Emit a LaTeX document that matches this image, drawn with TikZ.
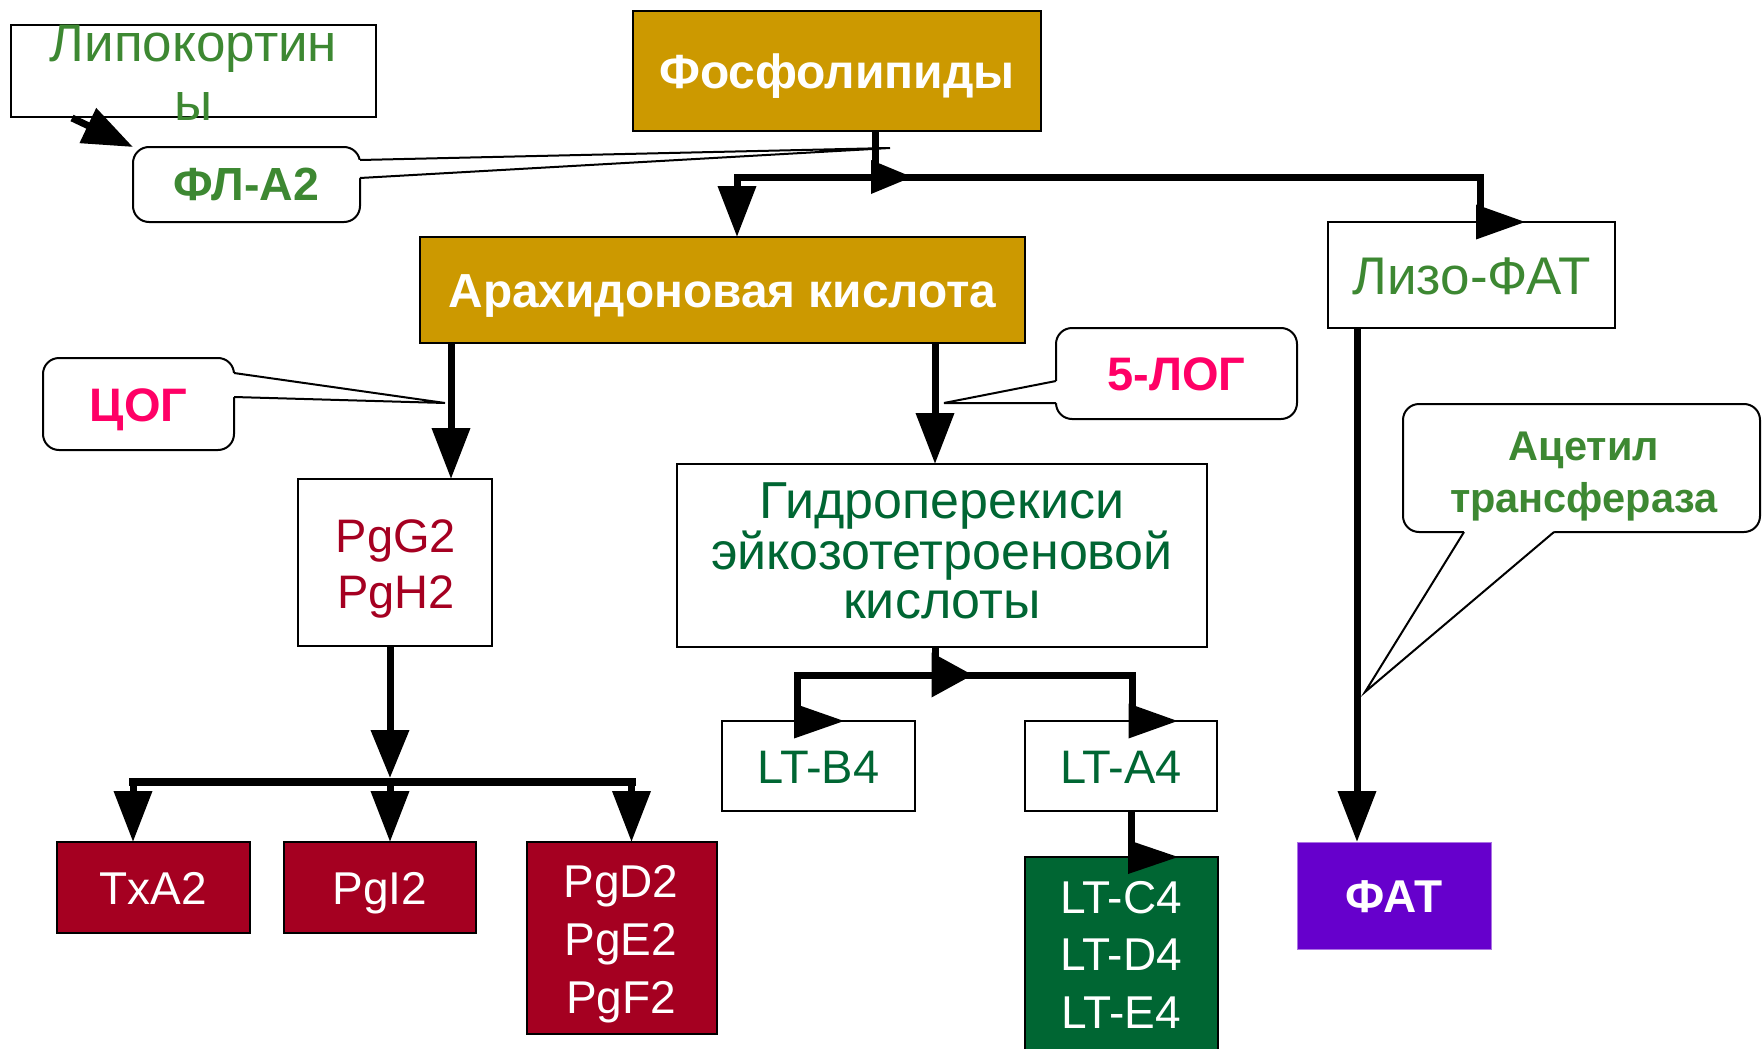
\documentclass[tikz,border=0pt]{standalone}
\usepackage{fontspec}
\setmainfont{Liberation Sans}
\usetikzlibrary{arrows.meta,calc}

\definecolor{gold}{HTML}{CC9900}
\definecolor{leaf}{HTML}{3D8832}
\definecolor{pine}{HTML}{006633}
\definecolor{wine}{HTML}{A50021}
\definecolor{rose}{HTML}{FF0066}
\definecolor{violetfill}{HTML}{6600CC}

\tikzset{
  box/.style={draw=black, line width=2pt, fill=white, inner sep=0pt, outer sep=0pt},
  bubble/.style={box, rounded corners=16pt},
  flow/.style={line width=7pt},
  flowdown/.style={flow, -{Triangle[length=51pt,width=37pt]}},
  txt/.style={anchor=base, inner sep=0pt, outer sep=0pt},
  capht/.style={text height=#1, text depth=0pt},
  pointer/.style={line width=2pt},
  pics/rtri/.style 2 args={code={\fill (0,-#2) -- (#1,0) -- (0,#2) -- cycle;}},
}

\begin{document}
\begin{tikzpicture}[x=1pt,y=-1pt]
\fill[white] (0,0) rectangle (1762,1049);
\useasboundingbox (0,0) rectangle (1762,1049);

% ---- boxes ----
\node[box, minimum width=365pt, minimum height=92pt] (lip) at (193.5,71) {};
\node[box, fill=gold, minimum width=408pt, minimum height=120pt, capht=35pt,
      text=white, font=\bfseries\fontsize{48}{56}\selectfont] (pho) at (837,71) {Фосфолипиды};
\node[bubble, minimum width=227pt, minimum height=75pt, capht=32pt,
      text=leaf, font=\bfseries\fontsize{46.5}{52}\selectfont] (fla) at (246.5,184.5) {ФЛ-А2};
\node[box, fill=gold, minimum width=605pt, minimum height=106pt, capht=34pt,
      text=white, font=\bfseries\fontsize{47.8}{54}\selectfont] (ara) at (722.5,290) {Арахидоновая кислота};
\node[box, minimum width=287pt, minimum height=106pt, capht=38pt,
      text=leaf, font=\fontsize{53}{60}\selectfont] (liz) at (1471.5,275) {Лизо-ФАТ};
\node[bubble, minimum width=191pt, minimum height=92pt, capht=35pt,
      text=rose, font=\bfseries\fontsize{47}{54}\selectfont] (cog) at (138.5,404) {ЦОГ};
\node[bubble, minimum width=241pt, minimum height=91pt, capht=34pt,
      text=rose, font=\bfseries\fontsize{47}{54}\selectfont] (log) at (1176.5,373.5) {5-ЛОГ};
\node[box, minimum width=194pt, minimum height=167pt] (pgg) at (395,562.5) {};
\node[box, minimum width=530pt, minimum height=183pt] (gid) at (942,555.5) {};
\node[bubble, minimum width=357pt, minimum height=128pt] (act) at (1581.5,468) {};
\node[box, minimum width=193pt, minimum height=90pt, capht=35pt,
      text=pine, font=\fontsize{47}{54}\selectfont] (ltb) at (818.5,766) {LT-B4};
\node[box, minimum width=192pt, minimum height=90pt, capht=35pt,
      text=pine, font=\fontsize{47}{54}\selectfont] (lta) at (1121,766) {LT-A4};
\node[box, fill=wine, minimum width=193pt, minimum height=91pt, capht=33pt,
      text=white, font=\fontsize{46}{54}\selectfont] (txa) at (153.5,887.5) {TxA2};
\node[box, fill=wine, minimum width=192pt, minimum height=91pt, capht=33pt,
      text=white, font=\fontsize{46}{54}\selectfont] (pgi) at (380,887.5) {PgI2};
\node[box, fill=wine, minimum width=190pt, minimum height=192pt] (pgd) at (622,938) {};
\node[box, fill=pine, minimum width=193pt, minimum height=203pt] (ltc) at (1121.5,958.5) {};
\node[box, fill=violetfill, draw=violetfill!55!white, line width=1pt,
      minimum width=194pt, minimum height=107pt, capht=33pt,
      text=white, font=\bfseries\fontsize{46}{54}\selectfont] (fat) at (1394,895.5) {ФАТ};

% ---- callout pointers ----
\coordinate (flt) at (890,148);
\fill[white] ($(fla.north east)+(0,13)$) -- (flt) -- ($(fla.north east)+(0,31)$)
  -- ($(fla.north east)+(-3,31)$) -- ($(fla.north east)+(-3,13)$) -- cycle;
\draw[pointer] ($(fla.north east)+(0,13)$) -- (flt) -- ($(fla.north east)+(0,31)$);

\coordinate (cgt) at (445,403);
\fill[white] ($(cog.north east)+(0,15)$) -- (cgt) -- ($(cog.north east)+(0,39)$)
  -- ($(cog.north east)+(-3,39)$) -- ($(cog.north east)+(-3,15)$) -- cycle;
\draw[pointer] ($(cog.north east)+(0,15)$) -- (cgt) -- ($(cog.north east)+(0,39)$);

\coordinate (lgt) at (944,403);
\fill[white] ($(log.north west)+(0,53)$) -- (lgt) -- ($(log.north west)+(0,75)$)
  -- ($(log.north west)+(3,75)$) -- ($(log.north west)+(3,53)$) -- cycle;
\draw[pointer] ($(log.north west)+(0,53)$) -- (lgt) -- ($(log.north west)+(0,75)$);

\coordinate (act0) at (1365,692);
\fill[white] ($(act.south west)+(61,0)$) -- (act0) -- ($(act.south west)+(151,0)$)
  -- ($(act.south west)+(151,-3)$) -- ($(act.south west)+(61,-3)$) -- cycle;
\draw[pointer] ($(act.south west)+(61,0)$) -- (act0) -- ($(act.south west)+(151,0)$);

% ---- connectors ----
\draw[flowdown, -{Triangle[length=50pt,width=37pt]}] ($(lip.south west)+(61,1)$) -- (fla.north west);

\coordinate (j1) at (875.5,177);
\coordinate (bl) at (737,177);
\coordinate (br) at (1480,177);
\draw[flow] (pho.south -| j1) -- (j1);
\draw[flowdown] (br) -- (bl) -- (bl |- ara.north);
\draw[flow] (bl) -- (br) -- (br |- liz.north);
\pic at ($(j1)+(-4.5,0)$) {rtri={41}{17}};
\pic at ($(br |- liz.north)+(-4,0)$) {rtri={49}{17.5}};

\coordinate (a1) at (451,0);
\coordinate (a2) at (935,0);
\draw[flowdown] (ara.south -| a1) -- (pgg.north -| a1);
\draw[flowdown] (ara.south -| a2) -- (gid.north -| a2);

\coordinate (p1) at (390,778);
\draw[flowdown, -{Triangle[length=48pt,width=37pt]}] (pgg.south -| p1) -- (p1);
\coordinate (q1) at (133,782);
\coordinate (q2) at (390,782);
\coordinate (q3) at (631.5,782);
\draw[line width=8pt, line cap=rect] (q1) -- (q3);
\draw[flowdown] (q1) -- (q1 |- txa.north);
\draw[flowdown] (q2) -- (q2 |- pgi.north);
\draw[flowdown] (q3) -- (q3 |- pgd.north);

\coordinate (g0) at (935,675);
\coordinate (gl) at (797.5,675);
\coordinate (gr) at (1132,675);
\draw[flow] (gid.south -| g0) -- (g0);
\draw[flow] (gl |- ltb.north) -- (gl) -- (gr) -- (gr |- lta.north);
\pic at ($(g0)+(-3.5,0)$) {rtri={41}{22.5}};
\pic at ($(gl |- ltb.north)+(-3.5,0)$) {rtri={50}{17.5}};
\pic at ($(gr |- lta.north)+(-3.5,0)$) {rtri={49}{17.5}};

\coordinate (c1) at (1131.5,0);
\draw[flow] (lta.south -| c1) -- (ltc.north -| c1);
\pic at ($(ltc.north -| c1)+(-3.5,0)$) {rtri={50}{17}};

\coordinate (f1) at (1357,0);
\draw[flowdown] (liz.south -| f1) -- (fat.north -| f1);

% ---- multi-line texts ----
\node[txt, text=leaf, font=\fontsize{53}{60}\selectfont] (lip1) at (193.5,62) {Липокортин};
\node[txt, text=leaf, font=\fontsize{53}{60}\selectfont] (lip2) at (193.5,121) {ы};

\node[txt, text=wine, font=\fontsize{47}{54}\selectfont] (pgg1) at (396,552) {PgG2};
\node[txt, text=wine, font=\fontsize{47}{54}\selectfont] (pgg2) at (396,608) {PgH2};

\node[txt, text=pine, font=\fontsize{52}{60}\selectfont] (gid1) at (942,518) {Гидроперекиси};
\node[txt, text=pine, font=\fontsize{52}{60}\selectfont] (gid2) at (942,569) {эйкозотетроеновой};
\node[txt, text=pine, font=\fontsize{52}{60}\selectfont] (gid3) at (942,618) {кислоты};

\node[txt, text=white, font=\fontsize{46}{54}\selectfont] (pgd1) at (621,897) {PgD2};
\node[txt, text=white, font=\fontsize{46}{54}\selectfont] (pgd2) at (621,955) {PgE2};
\node[txt, text=white, font=\fontsize{46}{54}\selectfont] (pgd3) at (621,1013) {PgF2};

\node[txt, text=white, font=\fontsize{46}{54}\selectfont] (ltc1) at (1121,913) {LT-C4};
\node[txt, text=white, font=\fontsize{46}{54}\selectfont] (ltc2) at (1121,970) {LT-D4};
\node[txt, text=white, font=\fontsize{46}{54}\selectfont] (ltc3) at (1121,1028) {LT-E4};

\node[txt, text=leaf, font=\bfseries\fontsize{41.5}{48}\selectfont] (act1) at (1584,460) {Ацетил};
\node[txt, text=leaf, font=\bfseries\fontsize{41.5}{48}\selectfont] (act2) at (1584,512) {трансфераза};
\end{tikzpicture}
\end{document}
